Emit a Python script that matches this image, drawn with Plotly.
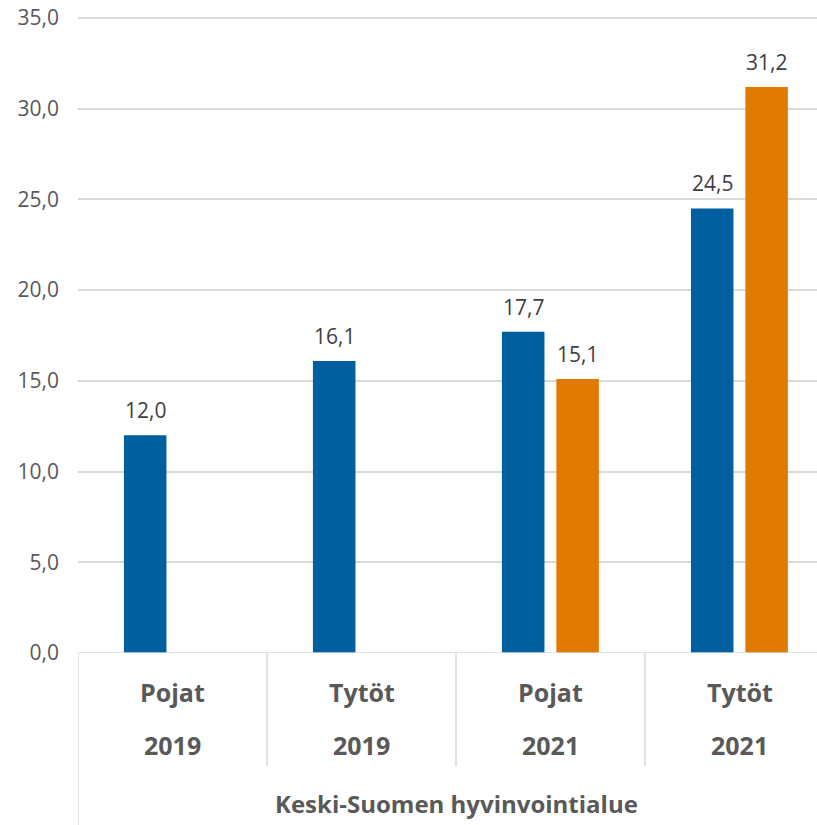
import plotly.graph_objects as go

groups = ["Pojat", "Tytöt", "Pojat", "Tytöt"]
years = ["2019", "2019", "2021", "2021"]
region = "Keski-Suomen hyvinvointialue"
series_a = [12.0, 16.1, 17.7, 24.5]
series_b = [None, None, 15.1, 31.2]
y_ticks = [0, 5, 10, 15, 20, 25, 30, 35]

BLUE = "#00609f"
ORANGE = "#e07a00"
xs = list(range(len(groups)))
W = 0.225
FONT = "Open Sans"

# paper-y helpers: plot area is 639 px tall
PH = 639.0
def py(px_below):
    return -px_below / PH

fig = go.Figure()
fig.add_trace(go.Bar(x=xs, y=series_a, width=W, offset=-0.257,
                     marker=dict(color=BLUE, line=dict(width=0)), showlegend=False))
fig.add_trace(go.Bar(x=xs, y=series_b, width=W, offset=0.031,
                     marker=dict(color=ORANGE, line=dict(width=0)), showlegend=False))

ann = []
for i, v in enumerate(series_a):
    if v is not None:
        ann.append(dict(x=i - 0.144, y=v, text=f"{v:.1f}".replace(".", ","),
                        xref="x", yref="y", yanchor="bottom", showarrow=False, yshift=9,
                        font=dict(size=21, color="#404040", family=FONT)))
for i, v in enumerate(series_b):
    if v is not None:
        ann.append(dict(x=i + 0.1435, y=v, text=f"{v:.1f}".replace(".", ","),
                        xref="x", yref="y", yanchor="bottom", showarrow=False, yshift=9,
                        font=dict(size=21, color="#404040", family=FONT)))
for i, (g, yr) in enumerate(zip(groups, years)):
    ann.append(dict(x=i, y=py(39), text=f"<b>{g}</b>", xref="x", yref="paper",
                    showarrow=False, yanchor="middle",
                    font=dict(size=25, color="#595959", family=FONT)))
    ann.append(dict(x=i, y=py(92), text=f"<b>{yr}</b>", xref="x", yref="paper",
                    showarrow=False, yanchor="middle",
                    font=dict(size=25, color="#595959", family=FONT)))
ann.append(dict(x=1.5, y=py(150), text=f"<b>{region}</b>", xref="x", yref="paper",
                showarrow=False, yanchor="middle",
                font=dict(size=24, color="#595959", family=FONT)))

shapes = [dict(type="line", xref="x", yref="paper", x0=-0.5, x1=-0.5, y0=0, y1=py(175),
               line=dict(color="#d9d9d9", width=1.5))]
for b in [0.5, 1.5, 2.5]:
    shapes.append(dict(type="line", xref="x", yref="paper", x0=b, x1=b, y0=0, y1=py(113),
                       line=dict(color="#d9d9d9", width=1.5)))
shapes.append(dict(type="line", xref="paper", yref="y", x0=0, x1=1, y0=0, y1=0,
                   line=dict(color="#d9d9d9", width=1.5)))

fig.update_layout(
    width=817, height=825,
    margin=dict(l=78, r=0, t=14, b=172, autoexpand=False),
    plot_bgcolor="white", paper_bgcolor="white",
    separators=", ",
    barmode="overlay",
    xaxis=dict(range=[-0.5, 3.41], showticklabels=False, showgrid=False, zeroline=False,
               showline=False, automargin=False),
    yaxis=dict(range=[0, 35.22], tickvals=y_ticks, tickformat=".1f", showgrid=True,
               gridcolor="#d9d9d9", gridwidth=1.5, zeroline=False, showline=False,
               ticklabelstandoff=18, ticklabeloverflow="allow", automargin=False,
               tickfont=dict(size=21, color="#595959", family=FONT)),
    annotations=ann, shapes=shapes,
)
fig.write_html("out.html", config={"displayModeBar": False},
               post_script="document.body.style.margin='0';")
